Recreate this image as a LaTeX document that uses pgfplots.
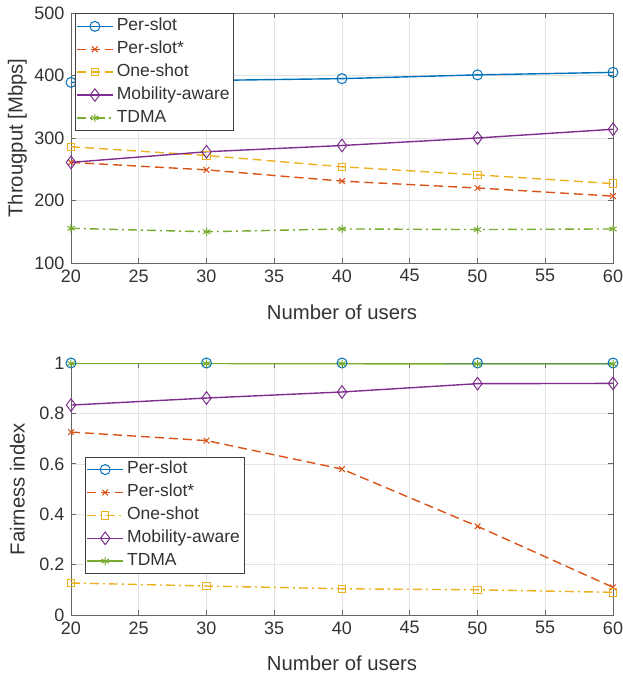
\documentclass[border=0pt]{standalone}
\usepackage{pgfplots}
\pgfplotsset{compat=1.18}
\usepackage{fontspec}
\setmainfont{Liberation Sans}
\definecolor{c1}{rgb}{0,0.447,0.741}
\definecolor{c2}{rgb}{0.85,0.325,0.098}
\definecolor{c3}{rgb}{0.929,0.694,0.125}
\definecolor{c4}{rgb}{0.494,0.184,0.556}
\definecolor{c5}{rgb}{0.466,0.674,0.188}
\definecolor{axc}{rgb}{0.4,0.4,0.4}
\definecolor{txt}{rgb}{0.2,0.2,0.2}
\pgfplotsset{
  mystyle/.style={
    scale only axis, width=542pt,
    xmin=20, xmax=60, xtick={20,25,...,60},
    grid=major, major grid style={draw=black!11, line width=0.6pt},
    axis line style={draw=axc, line width=0.8pt},
    tick style={draw=axc, line width=0.8pt},
    major tick length=5pt,
    tick align=inside, xtick pos=both, ytick pos=both,
    ticklabel style={font=\fontsize{18}{20}\selectfont, text=txt},
    xticklabel style={yshift=-3pt},
    yticklabel style={xshift=-3pt},
    label style={font=\fontsize{20.3}{22}\selectfont, text=txt},
    /pgf/number format/assume math mode=true,
    xlabel={Number of users},
    legend style={font=\fontsize{17.5}{19}\selectfont, draw=black!75, line width=0.8pt, inner sep=1pt, row sep=0pt, text=txt,
      nodes={text height=12.5pt, text depth=4pt, inner sep=3.2pt}},
    legend cell align=left,
    legend image code/.code={\draw[mark repeat=2,mark phase=2] plot coordinates {(0pt,0pt) (18pt,0pt) (36pt,0pt)};},
    every axis plot/.append style={line width=1.4pt, mark options={solid, line width=1pt, fill=none}},
  }
}
\begin{document}
\begin{tikzpicture}
\useasboundingbox (-71pt,-412pt) rectangle (552pt,263pt);
\begin{axis}[mystyle, height=250pt, at={(0,0)}, anchor=south west,
  ymin=100, ymax=500, ytick={100,200,...,500},
  ylabel={Througput [Mbps]},
  ylabel style={at={(axis description cs:-0.099,0.5)}, anchor=center},
  xlabel style={at={(axis description cs:0.5,-0.196)}, anchor=center},
  legend style={at={(0.007,0.998)}, anchor=north west}]
\addplot[c1, mark=o, mark size=5pt] coordinates {(20,389) (30,392) (40,395) (50,401) (60,405)};
\addlegendentry{Per-slot}
\addplot[c2, dash pattern=on 9pt off 5pt, mark=x, mark size=4pt] coordinates {(20,261) (30,249) (40,231) (50,220) (60,207)};
\addlegendentry{Per-slot*}
\addplot[c3, dash pattern=on 9pt off 5pt, mark=square, mark size=3.7pt] coordinates {(20,286) (30,272) (40,254) (50,241) (60,227)};
\addlegendentry{One-shot}
\addplot[c4, mark=diamond, mark size=6.3pt] coordinates {(20,261) (30,278) (40,288) (50,300) (60,314)};
\addlegendentry{Mobility-aware}
\addplot[c5, dash pattern=on 9pt off 4pt on 2pt off 4pt, mark=asterisk, mark size=4.2pt] coordinates {(20,155.5) (30,150) (40,154.5) (50,153.5) (60,154.5)};
\addlegendentry{TDMA}
\end{axis}
\begin{axis}[mystyle, height=252pt, at={(0,-352pt)}, anchor=south west,
  ymin=0, ymax=1, ytick={0,0.2,...,1},
  yticklabels={0,0.2,0.4,0.6,0.8,1},
  ylabel={Fairness index},
  ylabel style={at={(axis description cs:-0.099,0.5)}, anchor=center},
  xlabel style={at={(axis description cs:0.5,-0.19)}, anchor=center},
  legend style={at={(0.026,0.628)}, anchor=north west}]
\addplot[c1, mark=o, mark size=5pt] coordinates {(20,1) (30,1) (40,1) (50,1) (60,1)};
\addlegendentry{Per-slot}
\addplot[c2, dash pattern=on 9pt off 5pt, mark=x, mark size=4pt] coordinates {(20,0.726) (30,0.692) (40,0.579) (50,0.352) (60,0.11)};
\addlegendentry{Per-slot*}
\addplot[c3, dash pattern=on 9pt off 4pt on 2pt off 4pt, mark=square, mark size=3.7pt] coordinates {(20,0.127) (30,0.115) (40,0.104) (50,0.100) (60,0.090)};
\addlegendentry{One-shot}
\addplot[c4, mark=diamond, mark size=6.3pt] coordinates {(20,0.833) (30,0.861) (40,0.885) (50,0.918) (60,0.919)};
\addlegendentry{Mobility-aware}
\addplot[c5, mark=asterisk, mark size=4.2pt] coordinates {(20,0.998) (30,0.998) (40,0.997) (50,0.996) (60,0.996)};
\addlegendentry{TDMA}
\end{axis}
\end{tikzpicture}
\end{document}
